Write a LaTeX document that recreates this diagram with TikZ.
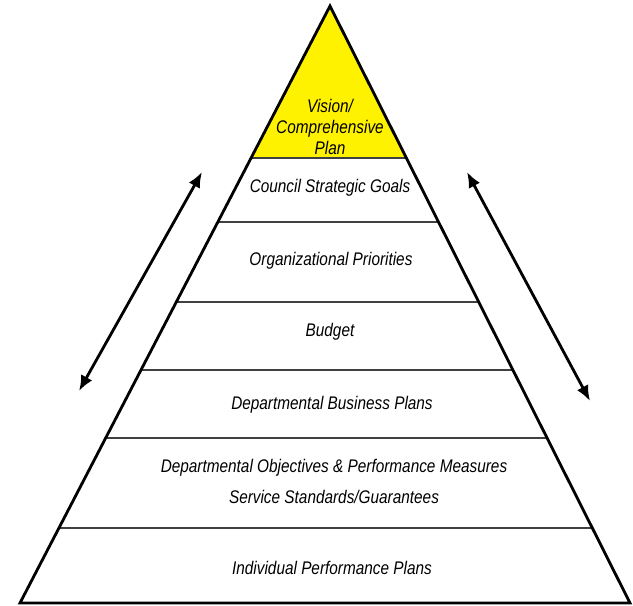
\documentclass[tikz,border=0pt]{standalone}
\usepackage{fontspec}
\setmainfont{Liberation Sans}
\newfontfamily\tierfont{Liberation Sans}[FakeStretch=0.84]
\usetikzlibrary{arrows.meta, calc}

\begin{document}
\begin{tikzpicture}[x=0.025cm, y=-0.025cm, >={Latex[length=11pt,width=9pt]},
  tier/.style={font=\tierfont\itshape\fontsize{13}{15}\selectfont, align=center, inner sep=1pt},
  divider/.style={draw=black!75, line width=0.9pt},
  flow/.style={<->, line width=2pt}]

\useasboundingbox (0,0) rectangle (633,606);

% corners of the pyramid
  \coordinate (apex) at (330,6);
  \coordinate (bl)   at (20,603);
  \coordinate (br)   at (630,603);

% points where each tier meets the sides
  \foreach \t/\n in {0.2546/a, 0.3618/b, 0.4958/c, 0.6097/d, 0.7236/e, 0.8744/f}{
    \coordinate (l\n) at ($(apex)!\t!(bl)$);
    \coordinate (r\n) at ($(apex)!\t!(br)$);
  }

% top tier
  \fill[yellow] (apex) -- (la) -- (ra) -- cycle;

% tier lines
  \draw[divider] (la) -- (ra);
  \draw[divider] (lb) -- (rb);
  \draw[divider] (lc) -- (rc);
  \draw[divider] (ld) -- (rd);
  \draw[divider] (le) -- (re);
  \draw[divider] (lf) -- (rf);

% outline
  \draw[line width=2pt, line join=miter] (apex) -- (bl) -- (br) -- cycle;

% labels of the tiers
  \node[tier] (vision)  at (330,127) {Vision/\\Comprehensive\\Plan};
  \node[tier] (council) at (330,188) {Council Strategic Goals};
  \node[tier] (org)     at (331,261) {Organizational Priorities};
  \node[tier] (budget)  at (330,332) {Budget};
  \node[tier] (dbp)     at (332,405) {Departmental Business Plans};
  \node[tier] (dobj)    at (334,481) {Departmental Objectives \& Performance Measures\\[7pt]Service Standards/Guarantees};
  \node[tier] (ipp)     at (332,568) {Individual Performance Plans};

% arrows beside the pyramid
  \coordinate (lup)   at (202,172);
  \coordinate (ldown) at (79,391);
  \coordinate (rup)   at (467,172);
  \coordinate (rdown) at (590,401);
  \draw[flow] (ldown) -- (lup);
  \draw[flow] (rup) -- (rdown);

\end{tikzpicture}
\end{document}
